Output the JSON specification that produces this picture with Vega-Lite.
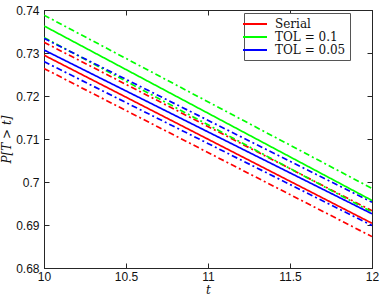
{
  "$schema": "https://vega.github.io/schema/vega-lite/v6.json",
  "width": 328,
  "height": 258,
  "autosize": {"type": "none"},
  "padding": {"left": 44, "top": 10, "right": 10, "bottom": 27},
  "background": "white",
  "config": {
    "view": {"stroke": "#262626", "strokeWidth": 1},
    "axis": {
      "grid": false,
      "domainColor": "#262626",
      "tickColor": "#262626",
      "tickSize": -5,
      "labelPadding": 9,
      "labelFlush": false,
      "labelOverlap": false,
      "labelFont": "Liberation Sans",
      "labelFontSize": 12,
      "labelColor": "#111111",
      "titleFont": "DejaVu Serif",
      "titleFontStyle": "italic",
      "titleFontWeight": "normal",
      "titleFontSize": 12,
      "titleColor": "#111111"
    }
  },
  "data": {
    "values": [
      {"method": "Serial", "kind": "lower", "series": "Serial lower", "t": 10, "p": 0.7264},
      {"method": "Serial", "kind": "lower", "series": "Serial lower", "t": 12, "p": 0.6873},
      {"method": "Serial", "kind": "upper", "series": "Serial upper", "t": 10, "p": 0.7325},
      {"method": "Serial", "kind": "upper", "series": "Serial upper", "t": 12, "p": 0.6933},
      {"method": "TOL = 0.05", "kind": "lower", "series": "TOL = 0.05 lower", "t": 10, "p": 0.7280},
      {"method": "TOL = 0.05", "kind": "lower", "series": "TOL = 0.05 lower", "t": 12, "p": 0.6899},
      {"method": "TOL = 0.1", "kind": "lower", "series": "TOL = 0.1 lower", "t": 10, "p": 0.7336},
      {"method": "TOL = 0.1", "kind": "lower", "series": "TOL = 0.1 lower", "t": 12, "p": 0.6930},
      {"method": "TOL = 0.05", "kind": "upper", "series": "TOL = 0.05 upper", "t": 10, "p": 0.7334},
      {"method": "TOL = 0.05", "kind": "upper", "series": "TOL = 0.05 upper", "t": 12, "p": 0.6953},
      {"method": "TOL = 0.1", "kind": "upper", "series": "TOL = 0.1 upper", "t": 10, "p": 0.7388},
      {"method": "TOL = 0.1", "kind": "upper", "series": "TOL = 0.1 upper", "t": 12, "p": 0.6985},
      {"method": "Serial", "kind": "mean", "series": "Serial mean", "t": 10, "p": 0.7295},
      {"method": "Serial", "kind": "mean", "series": "Serial mean", "t": 12, "p": 0.6904},
      {"method": "TOL = 0.1", "kind": "mean", "series": "TOL = 0.1 mean", "t": 10, "p": 0.7363},
      {"method": "TOL = 0.1", "kind": "mean", "series": "TOL = 0.1 mean", "t": 12, "p": 0.6957},
      {"method": "TOL = 0.05", "kind": "mean", "series": "TOL = 0.05 mean", "t": 10, "p": 0.7307},
      {"method": "TOL = 0.05", "kind": "mean", "series": "TOL = 0.05 mean", "t": 12, "p": 0.6926}
    ]
  },
  "layer": [
    {
      "mark": {"type": "line", "strokeWidth": 1.7, "clip": true},
      "encoding": {
        "x": {
          "field": "t", "type": "quantitative",
          "scale": {"domain": [10, 12], "nice": false, "zero": false},
          "axis": {"values": [10, 10.5, 11, 11.5, 12], "format": ".1~f", "labelPadding": 8, "title": "t", "titleY": 25, "titleBaseline": "alphabetic"}
        },
        "y": {
          "field": "p", "type": "quantitative",
          "scale": {"domain": [0.68, 0.74], "nice": false, "zero": false},
          "axis": {"values": [0.68, 0.69, 0.7, 0.71, 0.72, 0.73, 0.74], "format": ".2~f", "labelPadding": 10, "title": "P[T > t]", "titlePadding": 2}
        },
        "color": {
          "field": "method", "type": "nominal",
          "scale": {"domain": ["Serial", "TOL = 0.1", "TOL = 0.05"], "range": ["#ff0000", "#00ff00", "#0000ff"]},
          "legend": {
            "title": null,
            "orient": "none",
            "legendX": 200,
            "legendY": 3,
            "symbolType": "M-2,0H2",
            "symbolSize": 144,
            "symbolStrokeWidth": 2,
            "labelFont": "DejaVu Serif",
            "labelFontSize": 12,
            "labelColor": "#111111",
            "padding": 4,
            "rowPadding": 0,
            "strokeColor": "#555555",
            "fillColor": "white",
            "labelOffset": 13
          }
        },
        "strokeDash": {
          "field": "kind", "type": "nominal",
          "scale": {"domain": ["mean", "upper", "lower"], "range": [[1, 0], [6, 3, 2, 3], [6, 3, 2, 3]]},
          "legend": null
        },
        "detail": {"field": "series"}
      }
    },
    {
      "mark": {"type": "line", "opacity": 0},
      "encoding": {
        "x": {
          "field": "t", "type": "quantitative",
          "axis": {"orient": "top", "values": [10, 10.5, 11, 11.5, 12], "labels": false, "title": null}
        },
        "y": {
          "field": "p", "type": "quantitative",
          "axis": {"orient": "right", "values": [0.68, 0.69, 0.7, 0.71, 0.72, 0.73, 0.74], "labels": false, "title": null}
        },
        "detail": {"field": "series"}
      }
    }
  ],
  "resolve": {"axis": {"x": "independent", "y": "independent"}}
}
